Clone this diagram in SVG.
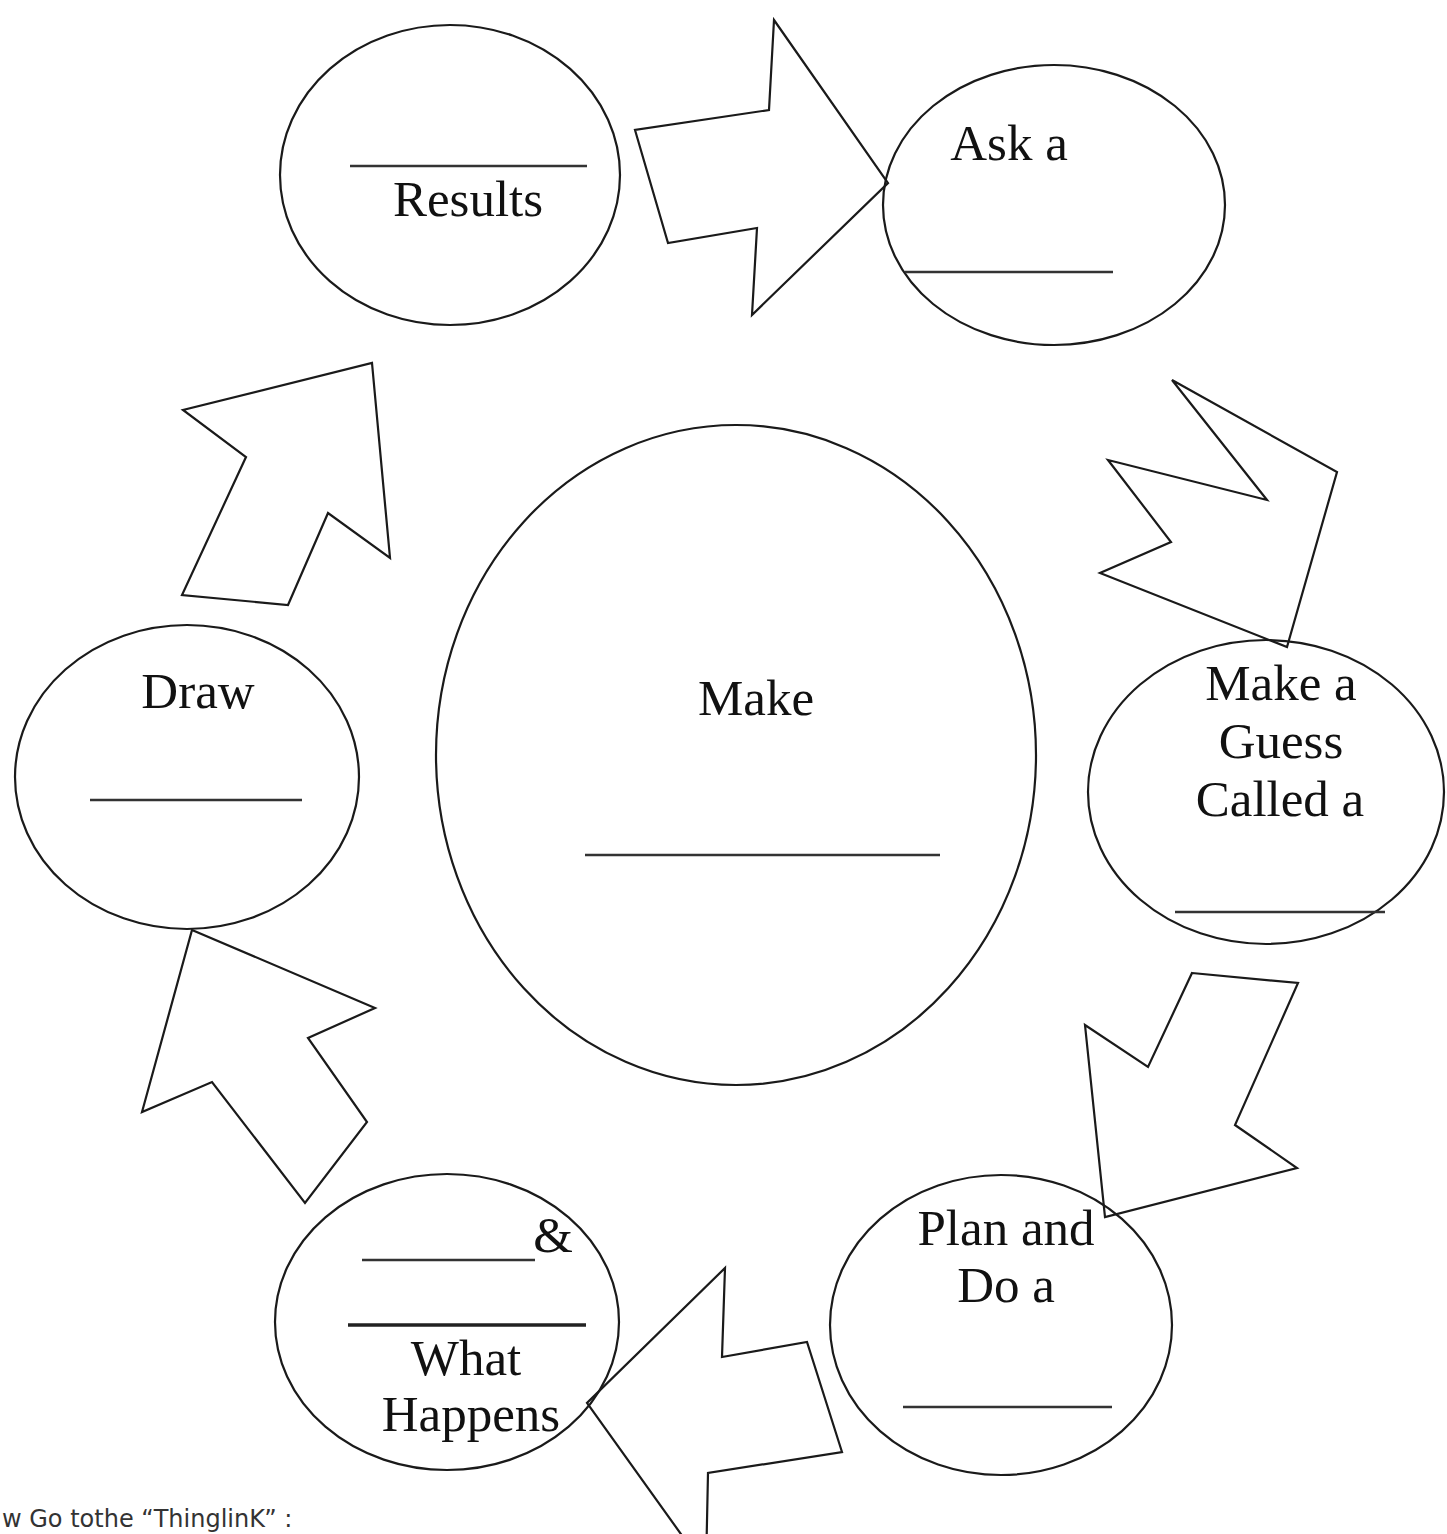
<svg xmlns="http://www.w3.org/2000/svg" width="1447" height="1534" viewBox="0 0 1447 1534">
<style>
.n{fill:none;stroke:#1a1a1a;stroke-width:2.2}
.a{fill:#fff;stroke:#1a1a1a;stroke-width:2.2;stroke-linejoin:miter}
.t{font-family:"Liberation Serif","Times New Roman",serif;font-size:51px;fill:#111;text-anchor:middle}
.l{stroke:#333;stroke-width:2.5}
.h{font-family:"DejaVu Sans","Liberation Sans",sans-serif;font-size:24px;fill:#333}
</style>
<rect width="1447" height="1534" fill="#fff"/>
<g id="connectors">
<polygon class="a" points="774,20 888,183 752,315 757,228 668,243 635,130 769,110"/>
<polygon class="a" points="1172,380 1337,472 1287,647 1100,573 1171,542 1108,460 1267,500"/>
<polygon class="a" points="1192,973 1298,983 1235,1125 1297,1168 1105,1217 1085,1025 1148,1067"/>
<polygon class="a" points="725,1268 722,1357 807,1342 842,1452 708,1473 706,1569 587,1403"/>
<polygon class="a" points="192,930 375,1008 308,1038 367,1122 305,1203 212,1082 142,1112"/>
<polygon class="a" points="372,363 390,558 328,513 288,605 182,595 246,457 183,410"/>
</g>
<g id="results">
<ellipse class="n" cx="450" cy="175" rx="170" ry="150"/>
<line class="l" x1="350" y1="166" x2="587" y2="166"/>
<text class="t" x="468" y="216">Results</text>
</g>
<g id="ask">
<ellipse class="n" cx="1054" cy="205" rx="171" ry="140"/>
<text class="t" x="1009" y="160">Ask a</text>
<line class="l" x1="905" y1="272" x2="1113" y2="272"/>
</g>
<g id="make">
<ellipse class="n" cx="736" cy="755" rx="300" ry="330"/>
<text class="t" x="756" y="715">Make</text>
<line class="l" x1="585" y1="855" x2="940" y2="855"/>
</g>
<g id="guess">
<ellipse class="n" cx="1266" cy="792" rx="178" ry="152"/>
<text class="t" x="1281" y="700">Make a</text>
<text class="t" x="1281" y="758">Guess</text>
<text class="t" x="1280" y="816">Called a</text>
<line class="l" x1="1175" y1="912" x2="1385" y2="912"/>
</g>
<g id="draw">
<ellipse class="n" cx="187" cy="777" rx="172" ry="152"/>
<text class="t" x="198" y="708">Draw</text>
<line class="l" x1="90" y1="800" x2="302" y2="800"/>
</g>
<g id="plan">
<ellipse class="n" cx="1001" cy="1325" rx="171" ry="150"/>
<text class="t" x="1006" y="1245">Plan and</text>
<text class="t" x="1006" y="1302">Do a</text>
<line class="l" x1="903" y1="1407" x2="1112" y2="1407"/>
</g>
<g id="happens">
<ellipse class="n" cx="447" cy="1322" rx="172" ry="148"/>
<line class="l" x1="362" y1="1260" x2="535" y2="1260"/>
<text class="t" x="553" y="1252">&amp;</text>
<line x1="348" y1="1325" x2="586" y2="1325" stroke="#222" stroke-width="3.5"/>
<text class="t" x="466" y="1375">What</text>
<text class="t" x="471" y="1431">Happens</text>
</g>
<text class="h" x="2" y="1527">w Go tothe “ThinglinK” :</text>
</svg>
